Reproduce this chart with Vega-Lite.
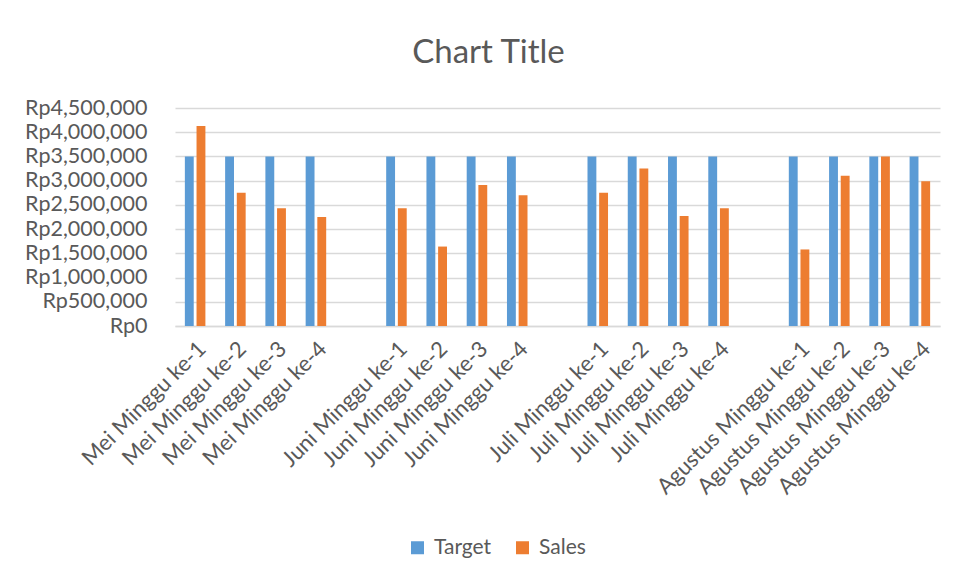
{
  "$schema": "https://vega.github.io/schema/vega-lite/v6.json",
  "autosize": "none",
  "width": 765,
  "height": 218,
  "padding": {"left": 175, "top": 108, "right": 17, "bottom": 257},
  "background": "white",
  "title": {
    "text": "Chart Title",
    "font": "Lato",
    "fontSize": 33,
    "fontWeight": "normal",
    "color": "#595959",
    "anchor": "middle",
    "frame": "group",
    "offset": 27,
    "dx": -69
  },
  "config": {
    "view": {"stroke": null},
    "font": "Lato"
  },
  "data": {
    "values": [
      {"category": "Mei Minggu ke-1", "series": "Target", "value": 3500000},
      {"category": "Mei Minggu ke-1", "series": "Sales", "value": 4130000},
      {"category": "Mei Minggu ke-2", "series": "Target", "value": 3500000},
      {"category": "Mei Minggu ke-2", "series": "Sales", "value": 2750000},
      {"category": "Mei Minggu ke-3", "series": "Target", "value": 3500000},
      {"category": "Mei Minggu ke-3", "series": "Sales", "value": 2430000},
      {"category": "Mei Minggu ke-4", "series": "Target", "value": 3500000},
      {"category": "Mei Minggu ke-4", "series": "Sales", "value": 2250000},
      {"category": "Juni Minggu ke-1", "series": "Target", "value": 3500000},
      {"category": "Juni Minggu ke-1", "series": "Sales", "value": 2430000},
      {"category": "Juni Minggu ke-2", "series": "Target", "value": 3500000},
      {"category": "Juni Minggu ke-2", "series": "Sales", "value": 1640000},
      {"category": "Juni Minggu ke-3", "series": "Target", "value": 3500000},
      {"category": "Juni Minggu ke-3", "series": "Sales", "value": 2910000},
      {"category": "Juni Minggu ke-4", "series": "Target", "value": 3500000},
      {"category": "Juni Minggu ke-4", "series": "Sales", "value": 2700000},
      {"category": "Juli Minggu ke-1", "series": "Target", "value": 3500000},
      {"category": "Juli Minggu ke-1", "series": "Sales", "value": 2750000},
      {"category": "Juli Minggu ke-2", "series": "Target", "value": 3500000},
      {"category": "Juli Minggu ke-2", "series": "Sales", "value": 3250000},
      {"category": "Juli Minggu ke-3", "series": "Target", "value": 3500000},
      {"category": "Juli Minggu ke-3", "series": "Sales", "value": 2270000},
      {"category": "Juli Minggu ke-4", "series": "Target", "value": 3500000},
      {"category": "Juli Minggu ke-4", "series": "Sales", "value": 2430000},
      {"category": "Agustus Minggu ke-1", "series": "Target", "value": 3500000},
      {"category": "Agustus Minggu ke-1", "series": "Sales", "value": 1580000},
      {"category": "Agustus Minggu ke-2", "series": "Target", "value": 3500000},
      {"category": "Agustus Minggu ke-2", "series": "Sales", "value": 3100000},
      {"category": "Agustus Minggu ke-3", "series": "Target", "value": 3500000},
      {"category": "Agustus Minggu ke-3", "series": "Sales", "value": 3500000},
      {"category": "Agustus Minggu ke-4", "series": "Target", "value": 3500000},
      {"category": "Agustus Minggu ke-4", "series": "Sales", "value": 2990000}
    ]
  },
  "mark": {"type": "bar"},
  "encoding": {
    "x": {
      "field": "category",
      "type": "nominal",
      "scale": {
        "domain": ["Mei Minggu ke-1", "Mei Minggu ke-2", "Mei Minggu ke-3", "Mei Minggu ke-4", "_1",
                   "Juni Minggu ke-1", "Juni Minggu ke-2", "Juni Minggu ke-3", "Juni Minggu ke-4", "_2",
                   "Juli Minggu ke-1", "Juli Minggu ke-2", "Juli Minggu ke-3", "Juli Minggu ke-4", "_3",
                   "Agustus Minggu ke-1", "Agustus Minggu ke-2", "Agustus Minggu ke-3", "Agustus Minggu ke-4"],
        "paddingInner": 0.49,
        "paddingOuter": 0.245
      },
      "axis": {
        "title": null,
        "labelAngle": -45,
        "labelFont": "Lato",
        "labelFontSize": 22,
        "labelColor": "#595959",
        "labelPadding": 12,
        "labelLimit": 400,
        "labelOverlap": false,
        "ticks": false,
        "domainColor": "#d9d9d9",
        "domainWidth": 1.5,
        "labelExpr": "indexof(datum.label, '_') === 0 ? '' : datum.label"
      }
    },
    "xOffset": {
      "field": "series",
      "type": "nominal",
      "sort": ["Target", "Sales"],
      "scale": {"paddingInner": 0.24, "paddingOuter": 0}
    },
    "y": {
      "field": "value",
      "type": "quantitative",
      "scale": {"domain": [0, 4500000], "nice": false},
      "axis": {
        "title": null,
        "values": [0, 500000, 1000000, 1500000, 2000000, 2500000, 3000000, 3500000, 4000000, 4500000],
        "labelExpr": "'Rp' + format(datum.value, ',')",
        "labelFont": "Lato",
        "labelFontSize": 21.5,
        "labelColor": "#595959",
        "labelPadding": 28,
        "labelOverlap": false,
        "ticks": false,
        "domain": false,
        "gridColor": "#d9d9d9",
        "gridWidth": 1.5
      }
    },
    "color": {
      "field": "series",
      "type": "nominal",
      "scale": {"domain": ["Target", "Sales"], "range": ["#5B9BD5", "#ED7D31"]},
      "legend": {
        "title": null,
        "orient": "none",
        "legendX": 232,
        "legendY": 429,
        "direction": "horizontal",
        "symbolType": "square",
        "symbolSize": 169,
        "symbolStrokeWidth": 0,
        "labelFont": "Lato",
        "labelFontSize": 21,
        "labelColor": "#595959",
        "labelOffset": 6,
        "columnPadding": 20
      }
    }
  }
}
